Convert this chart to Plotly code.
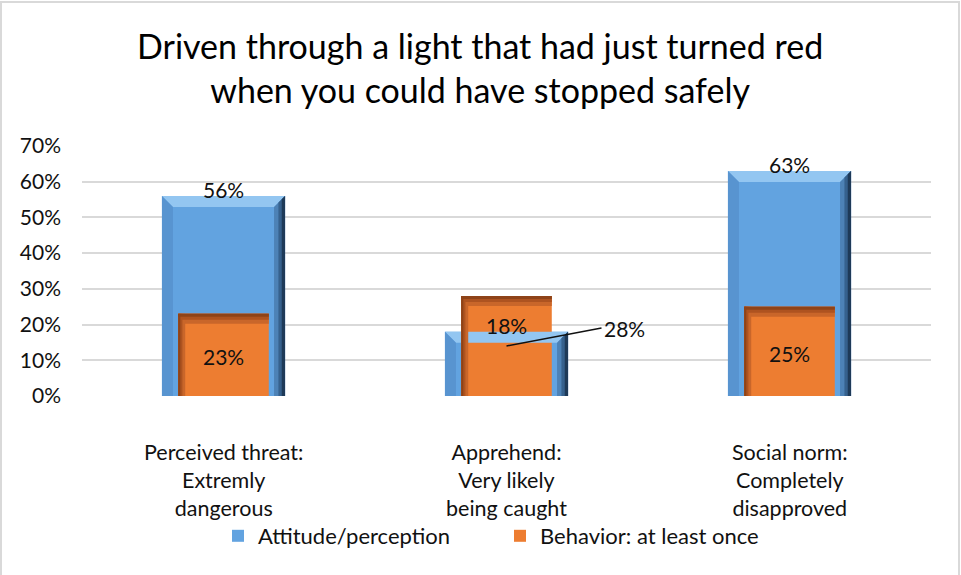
import plotly.graph_objects as go

# Survey categories, one list entry per label line
categories = [
    ["Perceived threat:", "Extremly", "dangerous"],
    ["Apprehend:", "Very likely", "being caught"],
    ["Social norm:", "Completely", "disapproved"],
]
attitude = [0.56, 0.18, 0.63]      # Attitude/perception
behavior = [0.23, 0.28, 0.25]      # Behavior: at least once
y_ticks = [0, 0.1, 0.2, 0.3, 0.4, 0.5, 0.6, 0.7]
y_tick_labels = ["0%", "10%", "20%", "30%", "40%", "50%", "60%", "70%"]
title_lines = ["Driven through a light that had just turned red",
               "when you could have stopped safely"]

W, H = 961, 575
ML, MR, MT, MB = 82, 30, 146, 179
FONT = "Lato, Calibri, Carlito, sans-serif"
INK = "#111111"

BLUE = "#62A3E0"
ORANGE = "#ED7D31"
BLUE_W = 0.435
ORANGE_W = 0.32

x = list(range(len(categories)))

fig = go.Figure()
fig.add_trace(go.Bar(
    x=x, y=attitude, width=BLUE_W, name="Attitude/perception",
    marker=dict(color=BLUE, line=dict(width=0)),
    hoverinfo="skip",
))
fig.add_trace(go.Bar(
    x=x, y=behavior, width=ORANGE_W, name="Behavior: at least once",
    marker=dict(color=ORANGE, line=dict(width=0)),
    hoverinfo="skip",
))

# pixel -> data unit conversions for the bevel/shadow decoration
plot_w = W - ML - MR
plot_h = H - MT - MB
px_x = 3.0 / plot_w           # x range spans 3 category units
px_y = 0.7 / plot_h

shapes = []

def poly(pts, color, opacity=1.0):
    d = "M " + " L ".join(f"{a},{b}" for a, b in pts) + " Z"
    return dict(type="path", path=d, xref="x", yref="y", fillcolor=color,
                opacity=opacity, line=dict(width=0), layer="above")

# bevelled look on the blue columns
for i, v in enumerate(attitude):
    x0, x1 = i - BLUE_W / 2, i + BLUE_W / 2
    bx, by = 11 * px_x, 11 * px_y
    shapes.append(poly([(x0, v), (x1, v), (x1 - bx, v - by), (x0 + bx, v - by)], "#93C6F1"))
    shapes.append(poly([(x0, v), (x0 + bx, v - by), (x0 + bx, 0), (x0, 0)], "#5894D0"))
    shapes.append(poly([(x1, v), (x1, 0), (x1 - bx, 0), (x1 - bx, v - by)], "#4D82B6"))
    shapes.append(poly([(x1, v), (x1, 0), (x1 - bx * 0.6, 0), (x1 - bx * 0.6, v - by * 0.6)], "#36618D"))
    shapes.append(poly([(x1, v), (x1, 0), (x1 - bx * 0.3, 0), (x1 - bx * 0.3, v - by * 0.3)], "#1E3A58"))

# inner shadow on the orange columns
for i, v in enumerate(behavior):
    x0, x1 = i - ORANGE_W / 2, i + ORANGE_W / 2
    for s, c in [(10, "#C9662A"), (6, "#AE5320"), (3, "#8E4318")]:
        sx, sy = s * px_x, s * px_y
        shapes.append(poly([(x0, v), (x1, v), (x1, v - sy), (x0, v - sy)], c))
        shapes.append(poly([(x0, v), (x0 + sx * 0.7, v), (x0 + sx * 0.7, 0), (x0, 0)], c))

# outer frame around the chart
shapes.append(dict(type="rect", xref="paper", yref="paper",
                   x0=(1 - ML) / plot_w, x1=(W - 2 - ML) / plot_w,
                   y0=-(MB + 5) / plot_h, y1=(plot_h + MT - 2) / plot_h,
                   line=dict(color="#D9D9D9", width=2), fillcolor="rgba(0,0,0,0)",
                   layer="below"))

annotations = []

# chart title
annotations.append(dict(text="<br>".join(title_lines), xref="paper", yref="paper",
                        x=(480 - ML) / plot_w, y=(plot_h + MT - 68) / plot_h,
                        xanchor="center", yanchor="middle", showarrow=False,
                        font=dict(family=FONT, size=34, color="#000000")))

# category labels under each column
for i, lines in enumerate(categories):
    annotations.append(dict(x=i, y=0, xref="x", yref="y", text="<br>".join(lines),
                            showarrow=False, yanchor="middle", yshift=-84,
                            font=dict(family=FONT, size=21.5, color=INK)))

# value labels
for i, v in enumerate(attitude):
    annotations.append(dict(x=i, y=v, xref="x", yref="y", text=f"{round(v * 100)}%",
                            showarrow=False, yanchor="bottom", yshift=-8,
                            font=dict(family=FONT, size=21, color=INK)))
for i, v in enumerate(behavior):
    if v > attitude[i]:
        # callout label beside the column
        annotations.append(dict(x=i, y=v / 2, xref="x", yref="y", text=f"{round(v * 100)}%",
                                showarrow=True, arrowhead=0, arrowwidth=1.5, arrowcolor=INK,
                                ax=95, ay=-18, xanchor="left",
                                font=dict(family=FONT, size=21, color=INK)))
    else:
        annotations.append(dict(x=i, y=v / 2, xref="x", yref="y", text=f"{round(v * 100)}%",
                                showarrow=False, yshift=-2,
                                font=dict(family=FONT, size=21, color=INK)))

fig.update_layout(
    width=W, height=H,
    margin=dict(l=ML, r=MR, t=MT, b=MB),
    paper_bgcolor="white", plot_bgcolor="white",
    barmode="overlay",
    xaxis=dict(range=[-0.5, 2.5], showticklabels=False, showgrid=False,
               zeroline=False, showline=False, ticks=""),
    yaxis=dict(range=[0, 0.7], tickvals=y_ticks, ticktext=y_tick_labels,
               showgrid=True, gridcolor="#D9D9D9", gridwidth=2, zeroline=False,
               showline=False, ticks="", ticklabelstandoff=20,
               tickfont=dict(family=FONT, size=21, color=INK)),
    legend=dict(orientation="h", x=(218 - ML) / plot_w, xanchor="left",
                y=-(537 - 396 - 22) / plot_h, yanchor="top",
                font=dict(family=FONT, size=22, color=INK),
                itemwidth=30, tracegroupgap=0,
                entrywidth=237, entrywidthmode="pixels"),
    shapes=shapes,
    annotations=annotations,
    showlegend=True,
)

fig.write_html("out.html")
